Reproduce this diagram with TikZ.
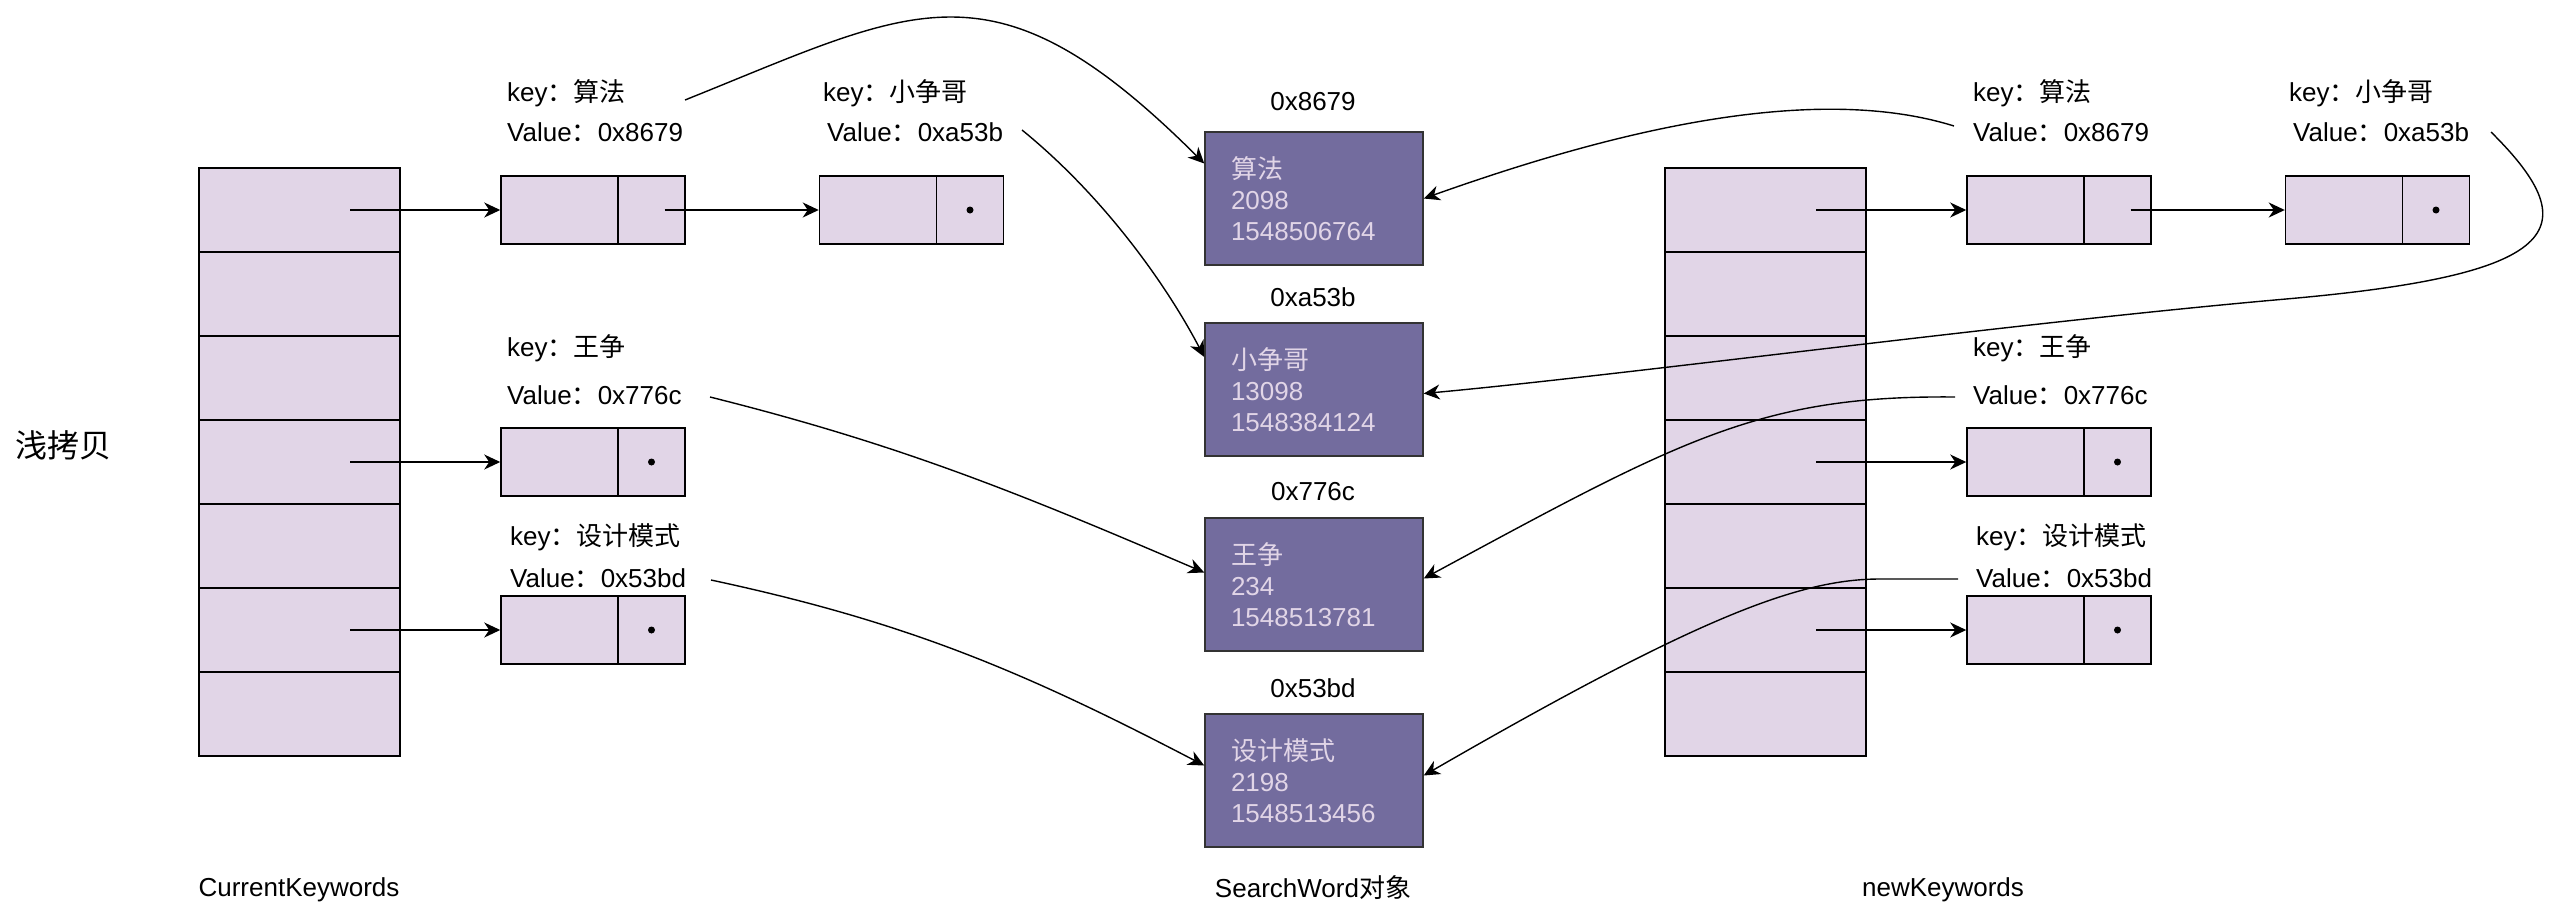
\documentclass[tikz,border=0pt]{standalone}
\usepackage{fontspec}
\setmainfont{Liberation Sans}
\newfontfamily\cjk{Noto Sans CJK SC}
\usetikzlibrary{arrows.meta}
\definecolor{lav}{HTML}{E1D5E7}
\definecolor{objfill}{HTML}{736C9E}
\definecolor{objborder}{HTML}{333333}
\begin{document}
\begin{tikzpicture}[x=1pt,y=-1pt,
  cell/.style={draw=black, line width=1.5pt, fill=lav, minimum width=201pt, minimum height=84pt, inner sep=0pt},
  kbox/.style={draw=black, line width=1.5pt, fill=lav, minimum width=117pt, minimum height=68pt, inner sep=0pt},
  pbox/.style={draw=black, line width=1.5pt, fill=lav, minimum width=67pt, minimum height=68pt, inner sep=0pt},
  obj/.style={draw=objborder, line width=1.5pt, fill=objfill, text=lav, minimum width=218pt, minimum height=133pt, text width=166pt, inner xsep=26pt, inner ysep=0pt, align=left, font=\fontsize{26}{31}\selectfont},
  lbl/.style={font=\fontsize{26}{31}\selectfont, inner sep=0pt, anchor=west},
  clbl/.style={font=\fontsize{26}{31}\selectfont, inner sep=0pt},
  arr/.style={line width=1.5pt, -{Stealth[length=16pt,width=15pt,inset=5pt]}},
  curv/.style={line width=1.4pt, -{Stealth[length=16pt,width=15pt,inset=5pt]}},
  pdot/.style={circle, fill=black, minimum size=7pt, inner sep=0pt}
]
\useasboundingbox (0,0) rectangle (2560,922);

% title
\node[inner sep=0pt, anchor=west, font=\cjk\fontsize{32}{36}\selectfont] (title) at (15,445) {浅拷贝};

% tables
\foreach \i in {1,...,7} {
  \node[cell] (lt\i) at (299.5,126+84*\i) {};
  \node[cell] (rt\i) at (1765.5,126+84*\i) {};
}

% left pointer boxes
\node[kbox] (la1) at (559.5,210) {};
\node[pbox] (la1p) at (651.5,210) {};
\node[kbox] (la2) at (878,210) {};
\node[pbox] (la2p) at (970,210) {};
\node[pdot] (da2) at (la2p.center) {};
\node[kbox] (la3) at (559.5,462) {};
\node[pbox] (la3p) at (651.5,462) {};
\node[pdot] (da3) at (la3p.center) {};
\node[kbox] (la4) at (559.5,630) {};
\node[pbox] (la4p) at (651.5,630) {};
\node[pdot] (da4) at (la4p.center) {};

% right pointer boxes
\node[kbox] (ra1) at (2025.5,210) {};
\node[pbox] (ra1p) at (2117.5,210) {};
\node[kbox] (ra2) at (2344,210) {};
\node[pbox] (ra2p) at (2436,210) {};
\node[pdot] (db2) at (ra2p.center) {};
\node[kbox] (ra3) at (2025.5,462) {};
\node[pbox] (ra3p) at (2117.5,462) {};
\node[pdot] (db3) at (ra3p.center) {};
\node[kbox] (ra4) at (2025.5,630) {};
\node[pbox] (ra4p) at (2117.5,630) {};
\node[pdot] (db4) at (ra4p.center) {};

% left labels
\node[lbl] (ka1) at (507,93) {key{\cjk ：算法}};
\node[lbl] (va1) at (507,132) {Value{\cjk ：}0x8679};
\node[lbl] (ka2) at (823,93) {key{\cjk ：小争哥}};
\node[lbl] (va2) at (827,132) {Value{\cjk ：}0xa53b};
\node[lbl] (ka3) at (507,348) {key{\cjk ：王争}};
\node[lbl] (va3) at (507,395) {Value{\cjk ：}0x776c};
\node[lbl] (ka4) at (510,537) {key{\cjk ：设计模式}};
\node[lbl] (va4) at (510,578) {Value{\cjk ：}0x53bd};

% right labels
\node[lbl] (kb1) at (1973,93) {key{\cjk ：算法}};
\node[lbl] (vb1) at (1973,132) {Value{\cjk ：}0x8679};
\node[lbl] (kb2) at (2289,93) {key{\cjk ：小争哥}};
\node[lbl] (vb2) at (2293,132) {Value{\cjk ：}0xa53b};
\node[lbl] (kb3) at (1973,348) {key{\cjk ：王争}};
\node[lbl] (vb3) at (1973,395) {Value{\cjk ：}0x776c};
\node[lbl] (kb4) at (1976,537) {key{\cjk ：设计模式}};
\node[lbl] (vb4) at (1976,578) {Value{\cjk ：}0x53bd};

% objects
\node[obj] (s1) at (1314,198.5) {{\cjk 算法}\\2098\\1548506764};
\node[obj] (s2) at (1314,389.5) {{\cjk 小争哥}\\13098\\1548384124};
\node[obj] (s3) at (1314,584.5) {{\cjk 王争}\\234\\1548513781};
\node[obj] (s4) at (1314,780.5) {{\cjk 设计模式}\\2198\\1548513456};
\node[clbl] (h1) at (1313,102) {0x8679};
\node[clbl] (h2) at (1313,297) {0xa53b};
\node[clbl] (h3) at (1313,492) {0x776c};
\node[clbl] (h4) at (1313,688) {0x53bd};

% bottom labels
\node[clbl] (cap1) at (299,890) {CurrentKeywords};
\node[clbl] (cap2) at (1313,888) {SearchWord{\cjk 对象}};
\node[clbl] (cap3) at (1943,890) {newKeywords};

% straight arrows
\draw[arr] ([xshift=50.5pt]lt1.center) -- (la1.west);
\draw[arr] ([xshift=50.5pt]lt4.center) -- (la3.west);
\draw[arr] ([xshift=50.5pt]lt6.center) -- (la4.west);
\draw[arr] ([xshift=13pt]la1p.center) -- (la2.west);
\draw[arr] ([xshift=50.5pt]rt1.center) -- (ra1.west);
\draw[arr] ([xshift=50.5pt]rt4.center) -- (ra3.west);
\draw[arr] ([xshift=50.5pt]rt6.center) -- (ra4.west);
\draw[arr] ([xshift=13pt]ra1p.center) -- (ra2.west);

% curve start points
\coordinate (c1) at (685,100);
\coordinate (c2) at (1022,130);
\coordinate (c3) at (710,397);
\coordinate (c4) at (711,580);
\coordinate (c5) at (1954,126);
\coordinate (c6) at (2491,132);
\coordinate (c7) at (1955,397);
\coordinate (c8) at (1958,579);

% curves
\draw[curv] (c1) .. controls (917,7) and (993,-47) .. ([yshift=35pt]s1.west);
\draw[curv] (c2) .. controls (1102,195) and (1165,282) .. ([yshift=32.5pt]s2.west);
\draw[curv] (c3) .. controls (902,445) and (1021,494) .. ([yshift=12pt]s3.west);
\draw[curv] (c4) .. controls (907,622) and (1023,671) .. ([yshift=15pt]s4.west);
\draw[curv] (c5) .. controls (1800,78) and (1580,143) .. (s1.east);
\draw[curv] (c6) .. controls (2590,230) and (2560,275) .. (2286,299) .. controls (2012,323) and (1625,375) .. ([yshift=-4pt]s2.east);
\draw[curv] (c7) .. controls (1760,395) and (1680,440) .. ([yshift=6pt]s3.east);
\draw[curv] (c8) -- (1880,579) .. controls (1800,579) and (1700,616) .. ([yshift=5pt]s4.east);
\end{tikzpicture}
\end{document}
